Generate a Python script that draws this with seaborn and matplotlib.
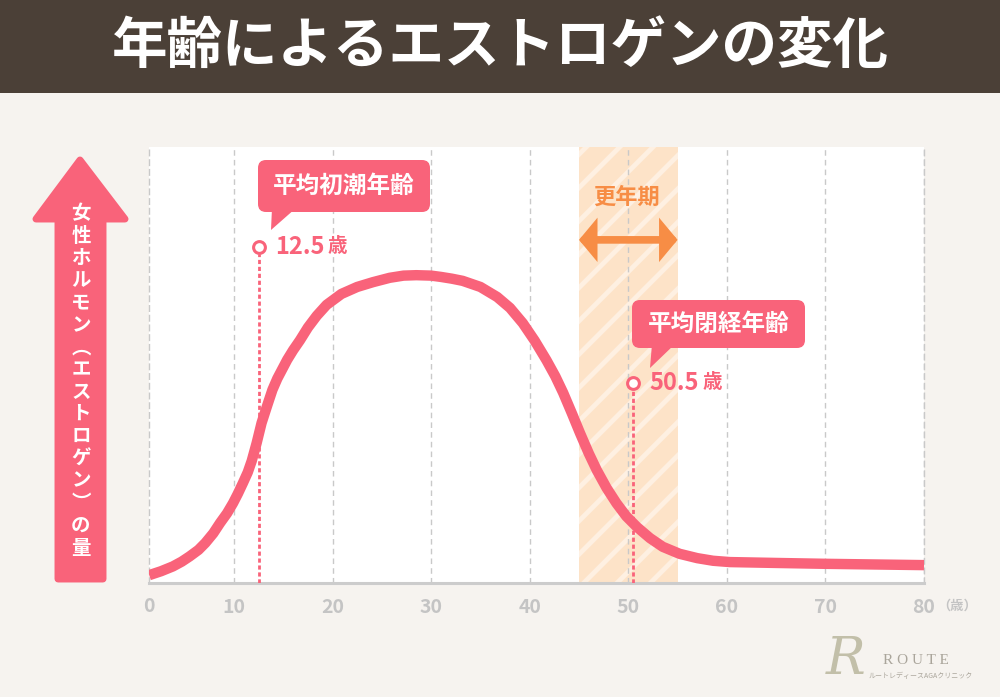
import matplotlib
matplotlib.use("Agg")
import matplotlib.pyplot as plt
import seaborn as sns
from matplotlib.patches import Rectangle, FancyBboxPatch, Polygon
from matplotlib.transforms import Affine2D

# ---------------- data ----------------
ages = [1.4, 2.6, 3.8, 4.7, 5.5, 6.4, 7.1, 7.9, 8.6, 9.3,
        9.9, 10.4, 10.9, 11.4, 11.8, 12.3, 12.8, 13.4, 13.9, 14.4,
        15.4, 16.0, 16.7, 17.5, 18.4, 19.4, 20.9, 22.5, 24.1, 25.8,
        27.2, 28.5, 30.0, 31.0, 32.1, 33.2, 35.0, 36.7, 38.0, 39.3,
        40.5, 41.7, 42.6, 43.4, 44.3, 45.1, 46.0, 46.8, 47.8, 48.8,
        49.8, 50.9, 52.2, 53.5, 55.2, 57.0, 58.6, 60.3, 65.0, 70.0,
        75.0, 80.0]
estrogen = [1.8, 2.7, 3.8, 4.9, 6.1, 7.6, 9.2, 11.4, 13.8, 16.0,
            18.3, 20.5, 22.9, 25.4, 28.0, 32.1, 36.7, 40.9, 44.3, 46.9,
            51.2, 53.4, 55.7, 58.6, 61.3, 63.8, 66.3, 67.9, 69.0, 70.0,
            70.5, 70.6, 70.5, 70.2, 69.8, 69.3, 67.9, 65.6, 63.1, 59.6,
            55.6, 51.1, 47.4, 43.6, 38.8, 34.4, 29.7, 25.9, 21.8, 18.3,
            15.3, 12.8, 10.3, 8.3, 6.7, 5.7, 5.1, 4.8, 4.6, 4.4,
            4.25, 4.1]
x_ticks = [10, 20, 30, 40, 50, 60, 70, 80]
x_tick_labels = ["10", "20", "30", "40", "50", "60", "70", "80"]
x_origin_label = "0"
x_unit = "（歳）"
menarche_age = 12.5
menopause_age = 50.5
climacteric = (45, 55)
title = "年齢によるエストロゲンの変化"
y_label = "女性ホルモン︵エストロゲン︶の量"
menarche_title = "平均初潮年齢"
menopause_title = "平均閉経年齢"
climacteric_label = "更年期"
age_unit = "歳"

# ---------------- style ----------------
PINK = "#f9637a"
BROWN = "#4b4037"
BG = "#f6f3ef"
ORANGE = "#f78d45"
GRID = "#c9c9c9"
TICK = "#c4c4c4"
JP = ["Noto Sans CJK JP", "DejaVu Sans"]

sns.set_theme(style="white")
plt.rcParams["font.family"] = JP
plt.rcParams["hatch.linewidth"] = 3.5

W, H, DPI = 1000, 697, 100
fig = plt.figure(figsize=(W / DPI, H / DPI), dpi=DPI, facecolor=BG)
pxT = Affine2D().scale(1 / DPI, -1 / DPI).translate(0, H / DPI) + fig.dpi_scale_trans

# title bar
fig.add_artist(Rectangle((0, 0), W, 93, transform=pxT, facecolor=BROWN, edgecolor="none"))
fig.text(500, 47, title, transform=pxT, ha="center", va="center", color="white",
         fontsize=40, fontweight="bold")

# axes
left_px, right_px, top_px, bottom_px = 149, 924, 147, 583
ax = fig.add_axes([left_px / W, 1 - bottom_px / H, (right_px - left_px) / W, (bottom_px - top_px) / H])
ax.set_facecolor("white")
ax.set_xlim(1.38, 80)
ax.set_ylim(0, 100)
ax.set_axisbelow("line")

# climacteric band
ax.axvspan(climacteric[0], climacteric[1], facecolor="#fde3c8", edgecolor="#fef0e2",
           hatch="/", linewidth=0, zorder=1)

# grid
ax.set_xticks(x_ticks)
ax.set_xticklabels(x_tick_labels)
ax.set_yticks([])
ax.xaxis.grid(True, color=GRID, linestyle=(0, (4, 3)), linewidth=1)
ax.spines["top"].set_visible(False)
for s in ["left", "right"]:
    ax.spines[s].set_color(GRID)
    ax.spines[s].set_linestyle((0, (4, 3)))
    ax.spines[s].set_linewidth(1)
ax.spines["bottom"].set_color("#cccccc")
ax.spines["bottom"].set_linewidth(2.2)
ax.tick_params(axis="x", length=0, pad=11, labelsize=14, labelcolor=TICK)
for t in ax.get_xticklabels():
    t.set_fontweight("bold")
ax.text(0, -0.055, x_origin_label, transform=ax.transAxes, ha="center", va="center",
        fontsize=14, fontweight="bold", color=TICK)
fig.text(957, 606, x_unit, transform=pxT, ha="center", va="center", fontsize=9.5,
         fontweight="bold", color=TICK)

# curve
sns.lineplot(x=ages, y=estrogen, ax=ax, color=PINK, linewidth=7.5, sort=False, zorder=3)
ax.lines[-1].set_solid_capstyle("butt")
ax.lines[-1].set_solid_joinstyle("round")

# markers + dashed drops
marker_levels = {menarche_age: 77.1, menopause_age: 45.9}
for a, lvl in marker_levels.items():
    ax.plot([a, a], [0, lvl - 1.6], color=PINK, linewidth=2, linestyle=(0, (1.5, 1)), zorder=4)
    ax.plot([a], [lvl], marker="o", markersize=8.5, markerfacecolor="white",
            markeredgecolor=PINK, markeredgewidth=2.2, zorder=5)
    t = ax.annotate(f"{a}", xy=(a, lvl), xytext=(12, 0), textcoords="offset points",
                    ha="left", va="center", fontsize=17, fontweight="bold", color=PINK, zorder=6)
    ax.annotate(age_unit, xy=(1, 0.5), xycoords=t, xytext=(2, 0), textcoords="offset points",
                ha="left", va="center", fontsize=14, fontweight="bold", color=PINK, zorder=6)

# callouts (pixel layout)
def callout(x0, y0, x1, y1, tail, text):
    fig.add_artist(FancyBboxPatch((x0, y0), x1 - x0, y1 - y0, transform=pxT,
                                  boxstyle="round,pad=0,rounding_size=8",
                                  facecolor=PINK, edgecolor="none"))
    fig.add_artist(Polygon(tail, closed=True, transform=pxT, facecolor=PINK, edgecolor="none"))
    fig.text((x0 + x1) / 2, (y0 + y1) / 2, text, transform=pxT, ha="center", va="center",
             color="white", fontsize=17, fontweight="bold")

callout(258, 160, 430, 212, [(272, 208), (296, 208), (271, 230)], menarche_title)
callout(632, 300, 805, 348, [(652, 344), (675, 344), (650, 368)], menopause_title)

# climacteric label + arrow
fig.text(627, 197, climacteric_label, transform=pxT, ha="center", va="center",
         color=ORANGE, fontsize=16, fontweight="bold")
ax.annotate("", xy=(climacteric[1], 78.7), xytext=(climacteric[0], 78.7),
            arrowprops=dict(arrowstyle="<|-|>,head_length=0.5,head_width=0.6",
                            mutation_scale=14, lw=5.5, color=ORANGE,
                            shrinkA=0, shrinkB=0, joinstyle="miter"),
            zorder=5)

# y axis big arrow
arrow_pts = [(80, 160), (125, 219), (103, 219), (103, 579), (58, 579), (58, 219), (36, 219)]
fig.add_artist(Polygon(arrow_pts, closed=True, transform=pxT, facecolor=PINK,
                       edgecolor=PINK, linewidth=5, joinstyle="round"))
chars = list(y_label)
y0, y1 = 214, 548
step = (y1 - y0) / (len(chars) - 1)
for i, c in enumerate(chars):
    fig.text(81, y0 + i * step, c, transform=pxT, ha="center", va="center", color="white",
             fontsize=14, fontweight="bold")

# logo
fig.text(846, 660, "R", transform=pxT, ha="center", va="center", fontsize=38,
         family="DejaVu Serif", style="italic", color="#c2bfa9")
fig.text(916, 660, "R O U T E", transform=pxT, ha="center", va="center", fontsize=11,
         family="Liberation Serif", color="#aaa59b")
fig.text(921, 676, "ルートレディースAGAクリニック", transform=pxT, ha="center", va="center",
         fontsize=5, color="#aaa59b")

fig.savefig("out.png", dpi=DPI, facecolor=BG)
